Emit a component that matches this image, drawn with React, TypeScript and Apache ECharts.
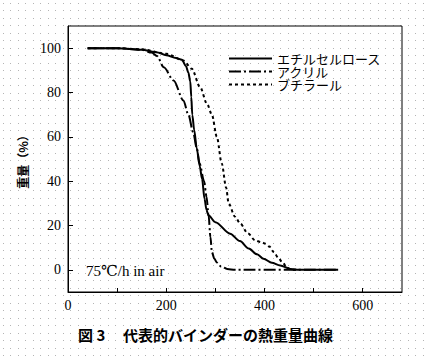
import React, { useEffect, useRef } from "react";
import * as echarts from "echarts";

// エチルセルロース
const ecTemp = [40, 100, 150, 180, 200, 220, 232, 240, 245, 249, 251, 253, 257, 262, 268, 273, 278, 282, 286, 300, 330, 350, 368, 385, 398, 415, 432, 453, 470, 550];
const ecWeight = [100, 100, 99.3, 98.2, 96.8, 95.6, 94.8, 92, 89, 85, 78, 70, 63, 55, 47, 41, 32, 27, 24.6, 21.5, 16.3, 13, 9.6, 7, 5, 3.2, 2, 0.4, 0, 0];
// アクリル
const acTemp = [40, 100, 150, 170, 181, 195, 215, 235, 245, 255, 262, 268, 277, 282, 286, 290, 293, 298, 303, 312, 324, 340, 550];
const acWeight = [100, 100, 99.3, 98, 96.5, 91.4, 85.4, 76.4, 70, 62, 55, 48, 40, 33, 25.3, 14.8, 8, 5, 3.3, 1.5, 0.4, 0, 0];
// ブチラール
const buTemp = [40, 100, 150, 200, 235, 252, 269, 283, 293, 303, 313, 322, 327, 340, 351, 366, 381, 393, 402, 410, 419, 428, 436, 446, 455, 470];
const buWeight = [100, 100, 99.5, 97.5, 94.4, 90.7, 82.4, 74.9, 70, 60, 48, 37, 30, 24, 20.8, 16.5, 13.3, 12.5, 11.8, 10.5, 8, 5.5, 3.5, 1, 0, 0];

const seriesNames = ["エチルセルロース", "アクリル", "ブチラール"];
const yTicks = [0, 20, 40, 60, 80, 100];
const xTicks = [100, 200, 300, 400, 500, 600];
const xLabels = [0, 200, 400, 600];

const zip = (xs: number[], ys: number[]) => xs.map((x, i) => [x, ys[i]]);

const dotsSvg =
  "data:image/svg+xml;utf8," +
  encodeURIComponent(
    '<svg xmlns="http://www.w3.org/2000/svg" width="15" height="15"><g fill="#b4b4b4"><rect x="3" y="3" width="1" height="1"/><rect x="10" y="3" width="1" height="1"/><rect x="3" y="10" width="1" height="1"/><rect x="10" y="10" width="1" height="1"/></g></svg>'
  );

export default function App() {
  const ref = useRef<HTMLDivElement>(null);
  useEffect(() => {
    if (!ref.current) return;
    const chart = echarts.init(ref.current, undefined, { renderer: "svg" });
    const serif = "'Liberation Serif', 'DejaVu Serif', serif";
    const jp = "'Noto Sans CJK JP', sans-serif";
    chart.setOption({
      animation: false,
      backgroundColor: "transparent",
      grid: {
        left: 68,
        right: 27,
        top: 26,
        bottom: 71,
        show: true,
        borderColor: "#000",
        borderWidth: 1,
        backgroundColor: "transparent",
      },
      legend: {
        orient: "vertical",
        left: 228,
        top: 52,
        itemWidth: 43,
        itemHeight: 13,
        itemGap: 0,
        padding: 0,
        data: seriesNames,
        itemStyle: { opacity: 0, color: "transparent", borderWidth: 0 },
        textStyle: { fontFamily: jp, fontSize: 13, lineHeight: 13, color: "#000" },
      },
      xAxis: {
        type: "value",
        min: 0,
        max: 680,
        axisLine: { onZero: false, lineStyle: { color: "#000", width: 1 } },
        axisTick: { inside: true, length: 4, customValues: xTicks, lineStyle: { color: "#000" } },
        axisLabel: {
          customValues: xLabels,
          margin: 6,
          fontFamily: serif,
          fontSize: 14,
          color: "#000",
        },
        splitLine: { show: false },
      },
      yAxis: {
        type: "value",
        min: -10,
        max: 110,
        name: "重量（%）",
        nameLocation: "middle",
        nameRotate: 90,
        nameGap: 40,
        nameTextStyle: { fontFamily: jp, fontSize: 12, fontWeight: "bold", color: "#000" },
        axisLine: { onZero: false, lineStyle: { color: "#000", width: 1 } },
        axisTick: { inside: true, length: 5, customValues: yTicks, lineStyle: { color: "#000" } },
        axisLabel: {
          customValues: yTicks,
          margin: 7,
          fontFamily: serif,
          fontSize: 14,
          color: "#000",
        },
        splitLine: { show: false },
      },
      graphic: [
        {
          type: "text",
          left: 86,
          top: 263,
          style: { text: "75℃/h in air", fontFamily: serif, fontSize: 15, fill: "#000" },
        },
        {
          type: "text",
          left: 78,
          top: 327,
          style: { text: "図 3", fontFamily: jp, fontSize: 15, fontWeight: "bold", fill: "#000" },
        },
        {
          type: "text",
          left: 123,
          top: 327,
          style: { text: "代表的バインダーの熱重量曲線", fontFamily: jp, fontSize: 15, fontWeight: "bold", fill: "#000" },
        },
      ],
      series: [
        {
          name: seriesNames[1],
          type: "line",
          data: zip(acTemp, acWeight),
          symbol: "none",
          smooth: 0.3,
          smoothMonotone: "x",
          lineStyle: { color: "#000", width: 2, type: [12, 3, 2, 3] },
          itemStyle: { color: "#000" },
        },
        {
          name: seriesNames[2],
          type: "line",
          data: zip(buTemp, buWeight),
          symbol: "none",
          smooth: 0.3,
          smoothMonotone: "x",
          lineStyle: { color: "#000", width: 2, type: [3, 3] },
          itemStyle: { color: "#000" },
        },
        {
          name: seriesNames[0],
          type: "line",
          data: zip(ecTemp, ecWeight),
          symbol: "none",
          smooth: 0.3,
          smoothMonotone: "x",
          lineStyle: { color: "#000", width: 2 },
          itemStyle: { color: "#000" },
        },
      ],
    });
    return () => chart.dispose();
  }, []);
  return (
    <div
      style={{
        position: "absolute",
        left: 0,
        top: 0,
        width: 429,
        height: 363,
        backgroundColor: "#fff",
        backgroundImage: `url("${dotsSvg}")`,
      }}
    >
      <div ref={ref} style={{ width: 429, height: 363 }} />
    </div>
  );
}
